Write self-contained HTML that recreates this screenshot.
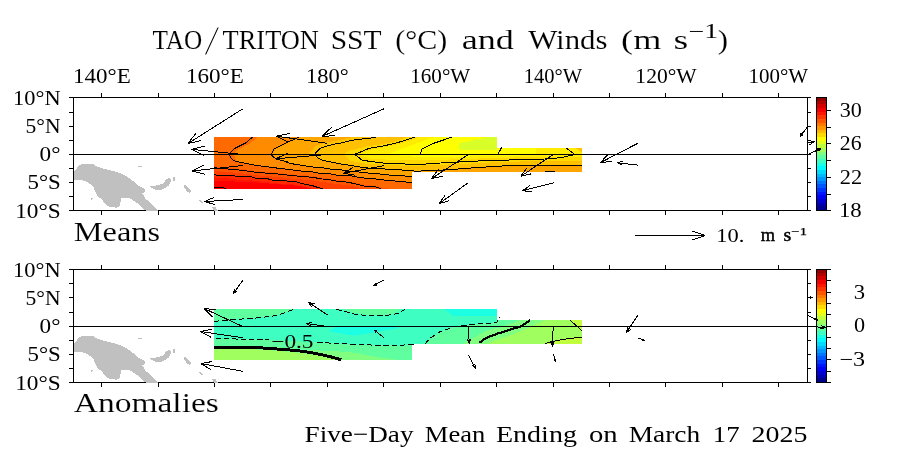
<!DOCTYPE html>
<html><head><meta charset="utf-8"><title>TAO/TRITON SST and Winds</title>
<style>
html,body{margin:0;padding:0;background:#fff;}
body{width:900px;height:456px;overflow:hidden;}
svg{display:block;}
.ser{font-family:"Liberation Serif",serif;fill:#000;}
.t27{stroke:#fff;stroke-width:0.12px;}
.t23{}
.t42{stroke:#fff;stroke-width:1px;}
.san{font-family:"Liberation Sans",sans-serif;fill:#000;}
.ln{stroke:#000;stroke-width:1;fill:none;stroke-linejoin:bevel;}
.sb{stroke:#000;stroke-width:0.45px;}
.sc{stroke:#000;stroke-width:0.25px;}
</style></head><body>
<svg width="900" height="456" viewBox="0 0 900 456">
<rect x="0" y="0" width="900" height="456" fill="#fff"/>
<g id="title">
</g>
<g shape-rendering="crispEdges">
<rect x="816" y="97.00" width="11" height="3.95" fill="#900000"/>
<rect x="816" y="100.65" width="11" height="3.95" fill="#b10000"/>
<rect x="816" y="104.29" width="11" height="3.95" fill="#d20000"/>
<rect x="816" y="107.94" width="11" height="3.95" fill="#f30000"/>
<rect x="816" y="111.58" width="11" height="3.95" fill="#ff1500"/>
<rect x="816" y="115.23" width="11" height="3.95" fill="#ff3500"/>
<rect x="816" y="118.87" width="11" height="3.95" fill="#ff5600"/>
<rect x="816" y="122.52" width="11" height="3.95" fill="#ff7700"/>
<rect x="816" y="126.16" width="11" height="3.95" fill="#ff9800"/>
<rect x="816" y="129.81" width="11" height="3.95" fill="#ffb900"/>
<rect x="816" y="133.45" width="11" height="3.95" fill="#ffda00"/>
<rect x="816" y="137.10" width="11" height="3.95" fill="#fffb00"/>
<rect x="816" y="140.74" width="11" height="3.95" fill="#e2ff1d"/>
<rect x="816" y="144.39" width="11" height="3.95" fill="#c1ff3e"/>
<rect x="816" y="148.03" width="11" height="3.95" fill="#a0ff5f"/>
<rect x="816" y="151.68" width="11" height="3.95" fill="#80ff80"/>
<rect x="816" y="155.32" width="11" height="3.95" fill="#5fffa0"/>
<rect x="816" y="158.97" width="11" height="3.95" fill="#3effc1"/>
<rect x="816" y="162.61" width="11" height="3.95" fill="#1dffe2"/>
<rect x="816" y="166.26" width="11" height="3.95" fill="#00fbff"/>
<rect x="816" y="169.90" width="11" height="3.95" fill="#00daff"/>
<rect x="816" y="173.55" width="11" height="3.95" fill="#00b9ff"/>
<rect x="816" y="177.19" width="11" height="3.95" fill="#0098ff"/>
<rect x="816" y="180.84" width="11" height="3.95" fill="#0077ff"/>
<rect x="816" y="184.48" width="11" height="3.95" fill="#0056ff"/>
<rect x="816" y="188.13" width="11" height="3.95" fill="#0035ff"/>
<rect x="816" y="191.77" width="11" height="3.95" fill="#0015ff"/>
<rect x="816" y="195.42" width="11" height="3.95" fill="#0000f3"/>
<rect x="816" y="199.06" width="11" height="3.95" fill="#0000d2"/>
<rect x="816" y="202.71" width="11" height="3.95" fill="#0000b1"/>
<rect x="816" y="206.35" width="11" height="3.95" fill="#000090"/>
<path class="ln" d="M816.5,97.5 V210.5 M826.5,97.5 V210.5 M816,97.5 H827 M816,210.5 H831"/>
</g>
<g class="ln" shape-rendering="crispEdges"><path d="M827,110.5 H831 M827,127.5 H831 M827,143.5 H831 M827,160.5 H831 M827,177.5 H831 M827,194.5 H831"/></g>
<g shape-rendering="crispEdges">
<rect x="816" y="269.00" width="11" height="3.95" fill="#900000"/>
<rect x="816" y="272.65" width="11" height="3.95" fill="#b10000"/>
<rect x="816" y="276.29" width="11" height="3.95" fill="#d20000"/>
<rect x="816" y="279.94" width="11" height="3.95" fill="#f30000"/>
<rect x="816" y="283.58" width="11" height="3.95" fill="#ff1500"/>
<rect x="816" y="287.23" width="11" height="3.95" fill="#ff3500"/>
<rect x="816" y="290.87" width="11" height="3.95" fill="#ff5600"/>
<rect x="816" y="294.52" width="11" height="3.95" fill="#ff7700"/>
<rect x="816" y="298.16" width="11" height="3.95" fill="#ff9800"/>
<rect x="816" y="301.81" width="11" height="3.95" fill="#ffb900"/>
<rect x="816" y="305.45" width="11" height="3.95" fill="#ffda00"/>
<rect x="816" y="309.10" width="11" height="3.95" fill="#fffb00"/>
<rect x="816" y="312.74" width="11" height="3.95" fill="#e2ff1d"/>
<rect x="816" y="316.39" width="11" height="3.95" fill="#c1ff3e"/>
<rect x="816" y="320.03" width="11" height="3.95" fill="#a0ff5f"/>
<rect x="816" y="323.68" width="11" height="3.95" fill="#80ff80"/>
<rect x="816" y="327.32" width="11" height="3.95" fill="#5fffa0"/>
<rect x="816" y="330.97" width="11" height="3.95" fill="#3effc1"/>
<rect x="816" y="334.61" width="11" height="3.95" fill="#1dffe2"/>
<rect x="816" y="338.26" width="11" height="3.95" fill="#00fbff"/>
<rect x="816" y="341.90" width="11" height="3.95" fill="#00daff"/>
<rect x="816" y="345.55" width="11" height="3.95" fill="#00b9ff"/>
<rect x="816" y="349.19" width="11" height="3.95" fill="#0098ff"/>
<rect x="816" y="352.84" width="11" height="3.95" fill="#0077ff"/>
<rect x="816" y="356.48" width="11" height="3.95" fill="#0056ff"/>
<rect x="816" y="360.13" width="11" height="3.95" fill="#0035ff"/>
<rect x="816" y="363.77" width="11" height="3.95" fill="#0015ff"/>
<rect x="816" y="367.42" width="11" height="3.95" fill="#0000f3"/>
<rect x="816" y="371.06" width="11" height="3.95" fill="#0000d2"/>
<rect x="816" y="374.71" width="11" height="3.95" fill="#0000b1"/>
<rect x="816" y="378.35" width="11" height="3.95" fill="#000090"/>
<path class="ln" d="M816.5,269.5 V382.5 M826.5,269.5 V382.5 M816,269.5 H831 M816,382.5 H831"/>
</g>
<g class="ln" shape-rendering="crispEdges"><path d="M827,280.5 H831 M827,292.5 H831 M827,303.5 H831 M827,314.5 H831 M827,326.5 H831 M827,337.5 H831 M827,348.5 H831 M827,359.5 H831 M827,371.5 H831"/></g>
<g shape-rendering="crispEdges">
<clipPath id="clip0"><polygon points="214.0,137.0 497.0,137.0 497.0,148.0 582.0,148.0 582.0,172.0 412.0,172.0 412.0,189.0 214.0,189.0"/></clipPath>
<g transform="translate(0,0)" clip-path="url(#clip0)">
<polygon fill="#ff0000" points="214.0,137.0 497.0,137.0 497.0,148.0 582.0,148.0 582.0,172.0 412.0,172.0 412.0,189.0 214.0,189.0"/>
<polygon fill="#ff1500" points="200.0,180.5 214.0,180.5 235.0,181.5 254.0,182.3 290.0,185.2 320.0,187.5 340.0,189.0 345.0,197.0 700.0,230.0 700.0,100.0 200.0,100.0"/>
<polygon fill="#ff2a00" points="200.0,177.3 214.0,177.3 217.1,178.3 234.0,178.6 235.8,179.5 250.9,179.8 256.2,181.3 267.8,181.8 273.1,183.3 284.7,183.8 296.0,184.8 302.2,186.6 312.9,188.8 318.2,190.6 322.7,191.6 327.7,199.6 700.0,230.0 700.0,100.0 200.0,100.0"/>
<polygon fill="#ff4000" points="200.0,173.7 214.0,173.7 217.1,174.7 234.0,175.0 235.8,175.9 250.9,176.2 256.2,177.7 267.8,178.2 273.1,179.7 284.7,180.2 296.0,181.2 302.2,183.0 312.9,185.2 318.2,187.0 322.7,188.0 327.7,196.0 700.0,230.0 700.0,100.0 200.0,100.0"/>
<polygon fill="#ff5500" points="200.0,170.2 214.0,170.2 217.1,171.2 227.8,172.0 240.2,173.1 250.0,174.4 256.2,175.3 267.8,176.2 279.3,177.1 288.9,178.3 302.2,179.4 312.9,180.3 320.0,181.7 330.7,183.0 335.1,183.9 347.1,185.1 357.8,187.3 364.0,189.1 375.6,190.0 380.9,191.6 385.9,199.6 700.0,230.0 700.0,100.0 200.0,100.0"/>
<polygon fill="#ff6a00" points="200.0,166.0 214.0,166.0 217.1,167.0 227.8,167.8 240.2,168.9 250.0,170.2 256.2,171.1 267.8,172.0 279.3,172.9 288.9,174.1 302.2,175.2 312.9,176.1 320.0,177.5 330.7,178.8 335.1,179.7 347.1,180.9 357.8,183.1 364.0,184.9 375.6,185.8 380.9,187.4 700.0,230.0 700.0,100.0 200.0,100.0"/>
<polygon fill="#ff8c00" points="279.0,120.0 257.7,137.0 250.6,143.0 244.3,146.1 239.0,148.8 235.0,152.8 233.6,154.3 236.7,161.5 245.6,163.3 256.2,165.4 267.8,166.8 279.3,168.4 290.0,169.6 302.2,171.1 312.9,172.0 319.1,173.3 329.8,173.8 335.1,174.9 340.0,175.3 351.6,175.9 360.4,177.7 375.6,179.0 386.2,180.3 397.8,181.2 409.3,182.4 412.0,182.6 442.0,184.6 700.0,230.0 700.0,100.0"/>
<polygon fill="#ffa500" points="312.7,120.0 300.7,137.1 296.7,138.9 288.7,142.4 281.6,146.0 275.4,149.1 272.2,154.3 276.6,158.9 282.8,160.7 290.7,163.6 302.2,165.3 309.3,166.7 323.6,168.0 330.7,169.1 340.0,169.7 347.1,171.0 357.8,171.9 369.3,173.2 380.9,174.1 392.4,175.4 409.3,176.2 412.0,176.3 442.0,178.3 700.0,230.0 700.0,100.0"/>
<polygon fill="#ffc000" points="390.5,120.0 371.6,134.6 365.3,135.9 353.8,136.8 344.9,138.6 336.0,140.8 332.1,141.3 323.2,143.5 316.1,145.7 308.5,154.3 318.3,158.5 322.7,160.9 329.8,162.3 341.3,164.5 347.1,165.3 357.8,167.1 365.8,168.4 380.9,169.3 397.8,170.2 413.8,171.5 421.0,171.5 431.0,171.0 448.0,170.3 465.0,169.0 477.0,168.0 495.0,167.0 510.0,166.0 582.0,165.8 700.0,230.0 700.0,100.0"/>
<polygon fill="#ffd800" points="439.7,120.0 407.6,137.1 396.9,140.7 382.7,144.2 366.7,146.4 348.9,150.9 343.6,154.4 349.8,160.7 366.7,163.8 384.4,164.7 402.2,165.6 420.0,165.6 448.0,164.5 471.0,163.5 500.0,162.0 540.0,161.0 582.0,160.5 700.0,230.0 700.0,100.0"/>
<polygon fill="#ffec00" points="462.0,120.0 420.0,137.0 406.0,142.0 393.3,145.5 381.0,148.0 370.0,150.0 358.0,154.5 370.0,158.5 400.0,160.5 450.0,159.5 500.0,157.8 540.0,157.0 582.0,157.0 700.0,230.0 700.0,100.0"/>
<polygon fill="#ffff00" points="434.0,137.0 415.0,144.0 400.0,149.0 388.0,154.5 420.0,157.2 470.0,156.5 520.0,155.5 536.0,154.5 536.0,130.0 434.0,130.0"/>
<polygon fill="#d8ff28" points="459.0,143.0 489.0,137.0 497.0,137.0 497.0,149.5 459.0,149.5"/>
<polygon fill="#ffc000" points="575.0,148.0 582.0,148.0 582.0,152.0"/>
</g>
<g transform="translate(0,0)" fill="#c0c0c0">
<polygon points="73.3,172.9 78.9,165.6 82.2,164.0 93.3,164.0 95.6,166.0 104.4,168.9 117.8,172.2 126.7,176.2 133.3,181.1 137.8,185.6 144.9,188.9 144.9,192.2 142.2,193.3 145.6,198.9 152.2,204.4 157.8,211.0 145.6,211.0 137.8,203.3 128.9,197.8 121.1,197.8 120.0,205.6 116.7,207.8 108.9,206.7 104.4,203.3 102.2,199.3 97.8,196.7 95.6,192.2 93.3,186.7 87.8,182.2 82.2,180.0 73.3,179.6"/>
<polygon points="148.9,186.7 157.8,185.1 163.3,183.3 166.7,178.9 170.0,177.8 171.1,181.1 168.9,185.6 162.2,189.6 155.6,189.6 151.1,187.8"/>
<polygon points="173.3,176.7 175.1,176.7 175.1,180.7 173.3,180.7"/>
<polygon points="184.4,185.1 186.7,185.6 191.1,191.1 190.0,193.3 186.7,191.1 184.0,187.3"/>
<polygon points="198.9,200.0 201.0,200.0 203.3,202.7 201.0,202.7"/>
<polygon points="212.2,206.7 215.6,207.3 218.2,211.0 213.3,211.0"/>
<polygon points="137.8,165.6 142.2,165.6 142.2,166.9 137.8,166.9"/>
<polygon points="91.1,197.8 93.8,197.8 91.5,200.0"/>
</g>
</g>
<g shape-rendering="crispEdges">
<g transform="translate(0,0)" class="ln">
<polyline points="252.7,137.0 245.6,143.0 239.3,146.1 234.0,148.8 230.0,152.8 229.1,154.3 230.9,157.7 233.1,160.3 236.7,161.5 245.6,163.3 256.2,165.4 267.8,166.8 279.3,168.4 290.0,169.6 302.2,171.1 312.9,172.0 319.1,173.3 329.8,173.8 335.1,174.9 340.0,175.3 351.6,175.9 360.4,177.7 375.6,179.0 386.2,180.3 397.8,181.2 409.3,182.4 412.0,182.6" stroke-width="1" stroke-linejoin="round"/>
<polyline points="299.2,137.1 295.2,138.9 287.2,142.4 280.1,146.0 273.9,149.1 271.2,154.3 273.0,156.7 276.6,158.9 282.8,160.7 290.7,163.6 302.2,165.3 309.3,166.7 323.6,168.0 330.7,169.1 340.0,169.7 347.1,171.0 357.8,171.9 369.3,173.2 380.9,174.1 392.4,175.4 409.3,176.2 412.0,176.3" stroke-width="1" stroke-linejoin="round"/>
<polyline points="375.6,137.1 369.3,138.4 357.8,139.3 348.9,141.1 340.0,143.3 336.1,143.8 327.2,146.0 320.1,148.2 314.5,154.3 318.3,158.0 322.7,160.4 329.8,161.8 341.3,164.0 347.1,164.8 357.8,166.6 365.8,167.9 380.9,168.8 397.8,169.7 413.8,171.0 421.0,171.0 431.0,170.5 448.0,169.8 465.0,168.5 477.0,167.5 495.0,166.5 510.0,165.5 582.0,165.3" stroke-width="1" stroke-linejoin="round"/>
<polyline points="414.7,137.1 404.0,140.7 393.3,143.8 380.9,146.4 369.3,148.2 362.2,151.3 354.7,154.3 357.8,156.7 362.2,160.3 375.6,162.1 386.2,163.4 402.2,163.9 415.0,164.5 426.0,164.0 448.0,162.5 471.0,161.5 488.0,160.3 502.0,160.3 522.0,159.5 545.0,159.0 560.0,157.8 575.0,154.5 566.0,148.0" stroke-width="1" stroke-linejoin="round"/>
<polyline points="451.5,137.2 442.0,140.5 433.0,143.5 422.0,149.0 420.0,154.3 498.0,154.3 501.5,147.5" stroke-width="1" stroke-linejoin="round"/>
<polyline points="214.0,167.2 217.1,168.2 227.8,169.0 240.2,170.1 250.0,171.4 256.2,172.3 267.8,173.2 279.3,174.1 288.9,175.3 302.2,176.4 312.9,177.3 320.0,178.7 330.7,180.0 335.1,180.9 347.1,182.1 357.8,184.3 364.0,186.1 375.6,187.0 380.9,188.6" stroke-width="1" stroke-linejoin="round"/>
<polyline points="214.0,174.3 217.1,175.3 234.0,175.6 235.8,176.5 250.9,176.8 256.2,178.3 267.8,178.8 273.1,180.3 284.7,180.8 296.0,181.8 302.2,183.6 312.9,185.8 318.2,187.6 322.7,188.6" stroke-width="1" stroke-linejoin="round"/>
<polyline points="214.0,187.4 223.3,187.7 226.0,188.6" stroke-width="1" stroke-linejoin="round"/>
<polyline points="545.0,171.5 555.0,171.5" stroke-width="1" stroke-linejoin="round"/>
<path stroke-width="1" d="M242.7,108.9 L188.0,143.5 M201.2,140.6 L188.0,143.5 L196.3,132.8"/>
<path stroke-width="1" d="M242.7,154.5 L191.5,149.4 M203.7,155.3 L191.5,149.4 L204.6,146.1"/>
<path stroke-width="1" d="M242.7,165.5 L192.0,171.0 M205.1,174.2 L192.0,171.0 L204.1,165.0"/>
<path stroke-width="1" d="M242.7,199.5 L204.5,201.5 M214.7,204.6 L204.5,201.5 L214.4,197.3"/>
<path stroke-width="1" d="M327.4,143.3 L276.6,136.2 M288.5,142.5 L276.6,136.2 L289.8,133.4"/>
<path stroke-width="1" d="M327.4,154.5 L275.7,158.8 M288.7,162.3 L275.7,158.8 L288.0,153.1"/>
<path stroke-width="1" d="M383.8,108.9 L322.0,136.5 M335.5,135.5 L322.0,136.5 L331.7,127.1"/>
<path stroke-width="1" d="M383.8,165.7 L343.4,173.2 M354.7,175.1 L343.4,173.2 L353.3,167.4"/>
<path stroke-width="1" d="M468.5,154.5 L431.3,178.7 M443.4,175.9 L431.3,178.7 L438.8,168.8"/>
<path stroke-width="1" d="M468.5,182.5 L439.3,203.6 M449.0,200.8 L439.3,203.6 L445.0,195.3"/>
<path stroke-width="1" d="M553.2,154.5 L520.7,176.4 M531.3,173.8 L520.7,176.4 L527.2,167.5"/>
<path stroke-width="1" d="M554.0,182.7 L522.4,190.7 M531.5,191.6 L522.4,190.7 L529.9,185.6"/>
<path stroke-width="1" d="M637.6,143.4 L600.3,162.7 M612.0,161.2 L600.3,162.7 L608.3,154.0"/>
<path stroke-width="1" d="M637.6,165.1 L617.4,162.7 M622.5,165.3 L617.4,162.7 L622.9,161.4"/>
<path stroke-width="1" d="M807.6,126.8 L800.0,136.5 M802.9,134.7 L800.0,136.5 L801.1,133.2"/>
<path stroke-width="1" d="M807.6,143.0 L814.7,141.6 M807.8,140.5 L814.7,141.6 L808.7,145.2"/>
<path stroke-width="1" d="M808.0,154.5 L821.0,148.4 M817.0,148.8 L821.0,148.4 L818.2,151.2"/>
</g>
<g class="ln">
<path d="M69,97.5 H811 M69,210.5 H811 M73.5,97.5 V210.5 M807.5,97.5 V210.5 M73,154.5 H808"/>
<path d="M101.5,97.5 v-4.5 M101.5,210.5 v4.5 M158.5,97.5 v-4.5 M158.5,210.5 v4.5 M214.5,97.5 v-4.5 M214.5,210.5 v4.5 M270.5,97.5 v-4.5 M270.5,210.5 v4.5 M327.5,97.5 v-4.5 M327.5,210.5 v4.5 M383.5,97.5 v-4.5 M383.5,210.5 v4.5 M440.5,97.5 v-4.5 M440.5,210.5 v4.5 M496.5,97.5 v-4.5 M496.5,210.5 v4.5 M553.5,97.5 v-4.5 M553.5,210.5 v4.5 M609.5,97.5 v-4.5 M609.5,210.5 v4.5 M665.5,97.5 v-4.5 M665.5,210.5 v4.5 M722.5,97.5 v-4.5 M722.5,210.5 v4.5 M778.5,97.5 v-4.5 M778.5,210.5 v4.5 M69,112.5 H73 M808,112.5 H811 M69,126.5 H73 M808,126.5 H811 M69,140.5 H73 M808,140.5 H811 M69,154.5 H73 M808,154.5 H811 M69,168.5 H73 M808,168.5 H811 M69,182.5 H73 M808,182.5 H811 M69,196.5 H73 M808,196.5 H811"/>
</g>
<rect x="146" y="210" width="11.5" height="1" fill="#c0c0c0"/><rect x="213.5" y="210" width="4.5" height="1" fill="#c0c0c0"/>
</g>
<g shape-rendering="crispEdges">
<clipPath id="clip172"><polygon points="214.0,137.0 497.0,137.0 497.0,148.0 582.0,148.0 582.0,172.0 412.0,172.0 412.0,188.0 214.0,188.0"/></clipPath>
<g transform="translate(0,172.0)" clip-path="url(#clip172)">
<polygon fill="#3effc1" points="214.0,137.0 497.0,137.0 497.0,148.0 582.0,148.0 582.0,172.0 412.0,172.0 412.0,188.0 214.0,188.0"/>
<polygon fill="#5fffa0" points="214.0,137.0 293.5,137.0 284.9,140.8 274.9,143.7 259.2,145.8 237.8,147.3 214.0,149.4"/>
<polygon fill="#5fffa0" points="200.0,166.5 214.0,166.5 243.5,167.2 269.2,167.7 317.1,170.4 364.9,172.9 402.0,173.6 412.0,172.5 424.9,171.9 430.6,165.8 440.6,159.4 449.3,156.5 453.5,154.8 462.1,153.7 482.1,151.5 496.3,150.8 499.9,145.1 600.0,145.0 600.0,228.0 200.0,228.0"/>
<polygon fill="#80ff80" points="200.0,173.6 214.0,173.6 255.0,174.0 280.0,175.5 300.0,177.5 320.0,178.5 340.0,179.5 355.0,180.8 376.4,185.0 397.8,187.9 400.0,228.0 200.0,228.0"/>
<polygon fill="#a0ff5f" points="200.0,177.0 214.0,177.0 255.0,177.5 280.0,179.0 300.0,181.0 318.0,183.5 332.0,186.5 338.0,188.0 338.0,228.0 200.0,228.0"/>
<polygon fill="#80ff80" points="462.0,171.9 479.2,162.6 489.0,157.7 500.0,155.2 510.0,152.0 520.0,148.0 600.0,148.0 600.0,228.0 462.0,228.0"/>
<polygon fill="#a0ff5f" points="487.0,172.0 495.0,168.0 510.0,163.7 530.0,155.0 545.7,148.0 600.0,148.0 600.0,228.0 487.0,228.0"/>
<polygon fill="#c1ff3e" points="569.9,148.0 582.0,158.7 600.0,158.0 600.0,128.0"/>
<polygon fill="#c1ff3e" points="545.0,171.5 552.8,169.4 567.1,166.8 582.0,165.1 600.0,165.0 600.0,228.0 545.0,228.0"/>
<polygon fill="#5fffa0" points="341.0,137.0 352.0,140.5 366.0,142.8 386.0,142.8 396.0,141.0 401.0,137.0"/>
<polygon fill="#1dffe2" points="329.2,159.4 335.0,155.3 397.0,155.3 397.0,156.5 355.0,163.7 346.0,162.5"/>
<polygon fill="#1dffe2" points="443.6,137.0 497.0,137.0 497.0,144.0 452.0,143.5 448.0,140.0"/>
</g>
<g transform="translate(0,172.0)" fill="#c0c0c0">
<polygon points="73.3,172.9 78.9,165.6 82.2,164.0 93.3,164.0 95.6,166.0 104.4,168.9 117.8,172.2 126.7,176.2 133.3,181.1 137.8,185.6 144.9,188.9 144.9,192.2 142.2,193.3 145.6,198.9 152.2,204.4 157.8,211.0 145.6,211.0 137.8,203.3 128.9,197.8 121.1,197.8 120.0,205.6 116.7,207.8 108.9,206.7 104.4,203.3 102.2,199.3 97.8,196.7 95.6,192.2 93.3,186.7 87.8,182.2 82.2,180.0 73.3,179.6"/>
<polygon points="148.9,186.7 157.8,185.1 163.3,183.3 166.7,178.9 170.0,177.8 171.1,181.1 168.9,185.6 162.2,189.6 155.6,189.6 151.1,187.8"/>
<polygon points="173.3,176.7 175.1,176.7 175.1,180.7 173.3,180.7"/>
<polygon points="184.4,185.1 186.7,185.6 191.1,191.1 190.0,193.3 186.7,191.1 184.0,187.3"/>
<polygon points="198.9,200.0 201.0,200.0 203.3,202.7 201.0,202.7"/>
<polygon points="212.2,206.7 215.6,207.3 218.2,211.0 213.3,211.0"/>
<polygon points="137.8,165.6 142.2,165.6 142.2,166.9 137.8,166.9"/>
<polygon points="91.1,197.8 93.8,197.8 91.5,200.0"/>
</g>
</g>
<g shape-rendering="crispEdges">
<g transform="translate(0,172.0)" class="ln">
<polyline points="214.0,149.4 237.8,147.3 259.2,145.8 274.9,143.7 284.9,140.8 293.5,137.3" stroke-width="1" stroke-dasharray="5.5 2.8" stroke-linejoin="round"/>
<polyline points="336.3,137.3 350.6,140.8 355.0,142.3 366.4,143.4 386.4,143.4 397.8,141.6 404.9,137.3" stroke-width="1" stroke-dasharray="5.5 2.8" stroke-linejoin="round"/>
<polyline points="215.7,166.5 243.5,167.2 269.2,167.7" stroke-width="1" stroke-dasharray="5.5 2.8" stroke-linejoin="round"/>
<polyline points="317.1,170.4 364.9,172.9 402.0,173.6 406.4,172.5 416.0,172.5" stroke-width="1" stroke-dasharray="5.5 2.8" stroke-linejoin="round"/>
<polyline points="424.9,171.9 430.6,165.8 440.6,159.4 449.3,156.5 453.5,154.8 462.1,153.7 469.2,153.0 482.1,151.5 496.3,150.8 499.9,145.1" stroke-width="1" stroke-dasharray="5.5 2.8" stroke-linejoin="round"/>
<polyline points="214.0,175.4 254.9,175.4 279.2,177.2 289.3,177.9 303.5,179.4 317.8,181.9 332.1,185.1 341.3,187.9" stroke-width="3" stroke-linejoin="round"/>
<polyline points="479.2,170.8 486.4,165.8 497.8,161.5 509.2,158.0 520.6,154.4 525.7,151.5 530.0,148.0" stroke-width="2.2" stroke-linejoin="round"/>
<polyline points="569.9,148.0 582.0,158.7" stroke-width="1" stroke-linejoin="round"/>
<polyline points="545.0,171.5 552.8,169.4 567.1,166.8 582.0,165.1" stroke-width="1" stroke-linejoin="round"/>
<path stroke-width="1" d="M243.0,108.1 L233.4,121.4 M237.2,118.8 L233.4,121.4 L234.7,117.0"/>
<path stroke-width="1" d="M242.7,154.5 L204.3,136.6 M212.7,145.0 L204.3,136.6 L216.1,137.6"/>
<path stroke-width="1" d="M242.7,165.7 L200.3,159.5 M210.9,165.2 L200.3,159.5 L212.0,157.1"/>
<path stroke-width="1" d="M242.7,199.3 L200.7,191.5 M211.0,197.6 L200.7,191.5 L212.5,189.5"/>
<path stroke-width="1" d="M327.4,143.0 L308.5,130.4 M312.3,135.5 L308.5,130.4 L314.7,131.9"/>
<path stroke-width="1" d="M327.4,154.5 L306.4,151.5 M311.6,154.3 L306.4,151.5 L312.2,150.3"/>
<path stroke-width="1" d="M383.5,108.1 L373.4,113.7 M376.6,113.2 L373.4,113.7 L375.5,111.3"/>
<path stroke-width="1" d="M383.8,165.7 L374.3,158.0 M376.1,160.9 L374.3,158.0 L377.5,159.1"/>
<path stroke-width="1" d="M468.5,154.5 L469.2,171.5 M470.6,167.0 L469.2,171.5 L467.4,167.1"/>
<path stroke-width="1" d="M468.5,182.8 L475.4,196.4 M474.9,192.2 L475.4,196.4 L472.3,193.5"/>
<path stroke-width="1" d="M553.2,154.5 L552.4,174.4 M554.5,169.2 L552.4,174.4 L550.7,169.1"/>
<path stroke-width="1" d="M553.4,182.2 L555.6,189.6 M555.8,187.1 L555.6,189.6 L554.1,187.6"/>
<path stroke-width="1" d="M637.9,143.1 L626.4,160.5 M631.1,157.0 L626.4,160.5 L627.8,154.8"/>
<path stroke-width="1" d="M637.9,165.9 L644.9,168.7 M643.0,167.0 L644.9,168.7 L642.4,168.6"/>
<path stroke-width="1" d="M807.5,125.5 L812.5,125.5 M810.2,124.6 L812.5,125.5 L810.2,126.4"/>
<path stroke-width="1" d="M807.5,143.1 L817.5,148.2 M815.4,145.9 L817.5,148.2 L814.4,147.8"/>
<path stroke-width="1" d="M807.5,154.5 L825.4,155.4 M820.8,153.4 L825.4,155.4 L820.6,156.9"/>
</g>
<g class="ln">
<path d="M69,269.5 H811 M69,382.5 H811 M73.5,269.5 V382.5 M807.5,269.5 V382.5 M73,326.5 H808"/>
<path d="M101.5,269.5 v-4.5 M101.5,382.5 v4.5 M158.5,269.5 v-4.5 M158.5,382.5 v4.5 M214.5,269.5 v-4.5 M214.5,382.5 v4.5 M270.5,269.5 v-4.5 M270.5,382.5 v4.5 M327.5,269.5 v-4.5 M327.5,382.5 v4.5 M383.5,269.5 v-4.5 M383.5,382.5 v4.5 M440.5,269.5 v-4.5 M440.5,382.5 v4.5 M496.5,269.5 v-4.5 M496.5,382.5 v4.5 M553.5,269.5 v-4.5 M553.5,382.5 v4.5 M609.5,269.5 v-4.5 M609.5,382.5 v4.5 M665.5,269.5 v-4.5 M665.5,382.5 v4.5 M722.5,269.5 v-4.5 M722.5,382.5 v4.5 M778.5,269.5 v-4.5 M778.5,382.5 v4.5 M69,283.5 H73 M808,283.5 H811 M69,297.5 H73 M808,297.5 H811 M69,312.5 H73 M808,312.5 H811 M69,326.5 H73 M808,326.5 H811 M69,340.5 H73 M808,340.5 H811 M69,354.5 H73 M808,354.5 H811 M69,368.5 H73 M808,368.5 H811"/>
</g>
<rect x="146" y="382.0" width="11.5" height="1" fill="#c0c0c0"/><rect x="213.5" y="382.0" width="4.5" height="1" fill="#c0c0c0"/>
</g>
<g class="ln" shape-rendering="crispEdges"><path d="M635,235.5 H705 M692,231 L705,235.5 L692,240"/></g>
<text class="ser t27" x="152.44" y="49.10" font-size="28" text-anchor="start" textLength="49.88" lengthAdjust="spacingAndGlyphs" >TAO</text>
<text class="ser t42 t23" x="204.06" y="54.70" font-size="42.5" text-anchor="start" textLength="15.68" lengthAdjust="spacingAndGlyphs" >/</text>
<text class="ser t27" x="222.62" y="49.10" font-size="28" text-anchor="start" textLength="96.31" lengthAdjust="spacingAndGlyphs" >TRITON</text>
<text class="ser t27" x="330.69" y="49.10" font-size="28" text-anchor="start" textLength="50.88" lengthAdjust="spacingAndGlyphs" >SST</text>
<text class="ser t27" x="395.34" y="49.10" font-size="28" text-anchor="start" textLength="51.91" lengthAdjust="spacingAndGlyphs" >(°C)</text>
<text class="ser t27" x="461.65" y="49.10" font-size="28" text-anchor="start" textLength="52.22" lengthAdjust="spacingAndGlyphs" >and</text>
<text class="ser t27" x="528.16" y="49.10" font-size="28" text-anchor="start" textLength="79.40" lengthAdjust="spacingAndGlyphs" >Winds</text>
<text class="ser t27" x="621.08" y="49.10" font-size="28" text-anchor="start" textLength="40.21" lengthAdjust="spacingAndGlyphs" >(m</text>
<text class="ser t27" x="673.40" y="49.10" font-size="28" text-anchor="start" textLength="14.76" lengthAdjust="spacingAndGlyphs" >s</text>
<text class="ser" x="688.56" y="38.30" font-size="20" text-anchor="start" textLength="29.59" lengthAdjust="spacingAndGlyphs" >−1</text>
<text class="ser t27" x="717.79" y="49.10" font-size="28" text-anchor="start" textLength="10.31" lengthAdjust="spacingAndGlyphs" >)</text>
<text class="ser" x="73.11" y="83.00" font-size="21.5" text-anchor="start" textLength="57.65" lengthAdjust="spacingAndGlyphs" >140°E</text>
<text class="ser" x="185.91" y="83.00" font-size="21.5" text-anchor="start" textLength="57.91" lengthAdjust="spacingAndGlyphs" >160°E</text>
<text class="ser" x="306.04" y="83.00" font-size="21.5" text-anchor="start" textLength="42.63" lengthAdjust="spacingAndGlyphs" >180°</text>
<text class="ser" x="410.25" y="83.00" font-size="21.5" text-anchor="start" textLength="60.00" lengthAdjust="spacingAndGlyphs" >160°W</text>
<text class="ser" x="523.76" y="83.00" font-size="21.5" text-anchor="start" textLength="58.42" lengthAdjust="spacingAndGlyphs" >140°W</text>
<text class="ser" x="635.35" y="83.00" font-size="21.5" text-anchor="start" textLength="61.32" lengthAdjust="spacingAndGlyphs" >120°W</text>
<text class="ser" x="748.55" y="83.00" font-size="21.5" text-anchor="start" textLength="59.50" lengthAdjust="spacingAndGlyphs" >100°W</text>
<text class="ser t27" x="73.78" y="241.10" font-size="28" text-anchor="start" textLength="86.38" lengthAdjust="spacingAndGlyphs" >Means</text>
<text class="ser t27" x="73.71" y="412.40" font-size="28" text-anchor="start" textLength="145.20" lengthAdjust="spacingAndGlyphs" >Anomalies</text>
<text class="ser" x="716.24" y="242.00" font-size="19" text-anchor="start" textLength="28.04" lengthAdjust="spacingAndGlyphs" >10.</text>
<text class="ser sb" x="760.71" y="241.40" font-size="19" text-anchor="start" textLength="14.34" lengthAdjust="spacingAndGlyphs" >m</text>
<text class="ser sb" x="783.49" y="241.40" font-size="19" text-anchor="start" textLength="7.76" lengthAdjust="spacingAndGlyphs" >s</text>
<text class="ser sc" x="791.63" y="235.30" font-size="10.5" text-anchor="start" textLength="15.35" lengthAdjust="spacingAndGlyphs" >−1</text>
<text class="ser t23" x="304.64" y="442.00" font-size="24" text-anchor="start" textLength="108.88" lengthAdjust="spacingAndGlyphs" >Five−Day</text>
<text class="ser t23" x="424.86" y="442.00" font-size="24" text-anchor="start" textLength="60.45" lengthAdjust="spacingAndGlyphs" >Mean</text>
<text class="ser t23" x="495.94" y="442.00" font-size="24" text-anchor="start" textLength="80.99" lengthAdjust="spacingAndGlyphs" >Ending</text>
<text class="ser t23" x="588.94" y="442.00" font-size="24" text-anchor="start" textLength="28.66" lengthAdjust="spacingAndGlyphs" >on</text>
<text class="ser t23" x="628.76" y="442.00" font-size="24" text-anchor="start" textLength="71.47" lengthAdjust="spacingAndGlyphs" >March</text>
<text class="ser t23" x="712.85" y="442.00" font-size="24" text-anchor="start" textLength="26.75" lengthAdjust="spacingAndGlyphs" >17</text>
<text class="ser t23" x="751.55" y="442.00" font-size="24" text-anchor="start" textLength="55.84" lengthAdjust="spacingAndGlyphs" >2025</text>
<text class="ser" x="839.66" y="117.10" font-size="20" text-anchor="start" textLength="22.08" lengthAdjust="spacingAndGlyphs" >30</text>
<text class="ser" x="839.80" y="150.40" font-size="20" text-anchor="start" textLength="21.76" lengthAdjust="spacingAndGlyphs" >26</text>
<text class="ser" x="839.80" y="184.10" font-size="20" text-anchor="start" textLength="22.38" lengthAdjust="spacingAndGlyphs" >22</text>
<text class="ser" x="838.91" y="217.00" font-size="20" text-anchor="start" textLength="22.79" lengthAdjust="spacingAndGlyphs" >18</text>
<text class="ser" x="853.85" y="298.80" font-size="20" text-anchor="start" textLength="11.33" lengthAdjust="spacingAndGlyphs" >3</text>
<text class="ser" x="854.00" y="332.20" font-size="20" text-anchor="start" textLength="11.10" lengthAdjust="spacingAndGlyphs" >0</text>
<text class="ser" x="839.53" y="365.80" font-size="20" text-anchor="start" textLength="25.67" lengthAdjust="spacingAndGlyphs" >−3</text>
<text class="ser" x="271.26" y="347.80" font-size="19" text-anchor="start" textLength="42.28" lengthAdjust="spacingAndGlyphs" >−0.5</text>
<text class="ser" x="13.04" y="104.90" font-size="21.5" text-anchor="start" textLength="47.52" lengthAdjust="spacingAndGlyphs" >10°N</text>
<text class="ser" x="25.50" y="133.30" font-size="21.5" text-anchor="start" textLength="34.96" lengthAdjust="spacingAndGlyphs" >5°N</text>
<text class="ser" x="39.60" y="161.00" font-size="21.5" text-anchor="start" textLength="20.90" lengthAdjust="spacingAndGlyphs" >0°</text>
<text class="ser" x="27.52" y="189.40" font-size="21.5" text-anchor="start" textLength="33.26" lengthAdjust="spacingAndGlyphs" >5°S</text>
<text class="ser" x="15.19" y="217.80" font-size="21.5" text-anchor="start" textLength="45.56" lengthAdjust="spacingAndGlyphs" >10°S</text>
<text class="ser" x="13.04" y="276.90" font-size="21.5" text-anchor="start" textLength="47.52" lengthAdjust="spacingAndGlyphs" >10°N</text>
<text class="ser" x="25.50" y="305.30" font-size="21.5" text-anchor="start" textLength="34.96" lengthAdjust="spacingAndGlyphs" >5°N</text>
<text class="ser" x="39.60" y="333.00" font-size="21.5" text-anchor="start" textLength="20.90" lengthAdjust="spacingAndGlyphs" >0°</text>
<text class="ser" x="27.52" y="361.40" font-size="21.5" text-anchor="start" textLength="33.26" lengthAdjust="spacingAndGlyphs" >5°S</text>
<text class="ser" x="15.19" y="389.80" font-size="21.5" text-anchor="start" textLength="45.56" lengthAdjust="spacingAndGlyphs" >10°S</text>
</svg>
</body></html>
